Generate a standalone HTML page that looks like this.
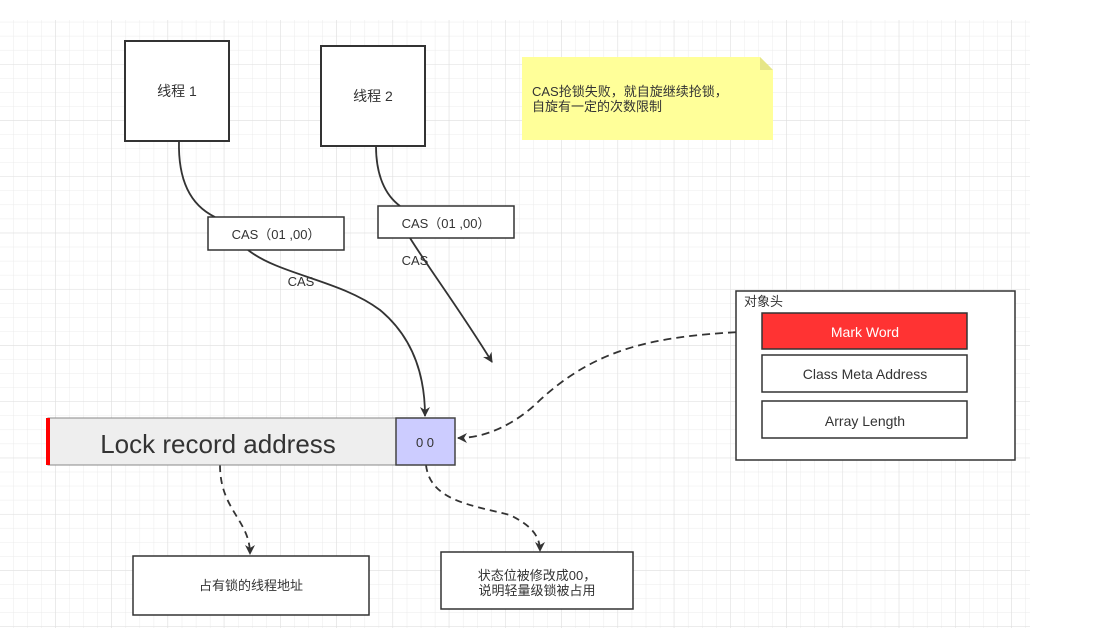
<!DOCTYPE html>
<html><head><meta charset="utf-8"><style>
body{margin:0;width:1098px;height:636px;background:#fff;overflow:hidden;font-family:"Liberation Sans","Noto Sans CJK SC",sans-serif}
</style></head><body>
<svg width="1098" height="636" xmlns="http://www.w3.org/2000/svg" font-family="Liberation Sans, Noto Sans CJK SC, sans-serif">
<defs>
<pattern id="mn" x="-1" y="7.75" width="14.06" height="14.06" patternUnits="userSpaceOnUse"><path d="M0 0H14.06M0 0V14.06" stroke="#ebebeb" stroke-width="1" fill="none"/></pattern>
<pattern id="mj" x="-1.25" y="7.75" width="56.25" height="56.25" patternUnits="userSpaceOnUse"><path d="M0 0H56.25M0 0V56.25" stroke="#dedede" stroke-width="1" fill="none"/></pattern>
<marker id="ar" markerWidth="10" markerHeight="10" refX="9" refY="5" orient="auto" markerUnits="userSpaceOnUse"><path d="M0,0 L10,5 L0,10 L3,5 z" fill="#333"/></marker>
</defs>
<rect x="0" y="20" width="1030" height="608" fill="url(#mn)"/>
<rect x="0" y="20" width="1030" height="608" fill="url(#mj)"/>
<g stroke="#333" stroke-width="2" fill="#fff">
<rect x="125" y="41" width="104" height="100"/>
<rect x="321" y="46" width="104" height="100"/>
</g>
<text x="177" y="96" font-size="14" text-anchor="middle" fill="#333">线程 1</text>
<text x="373" y="101" font-size="14" text-anchor="middle" fill="#333">线程 2</text>
<path d="M522 57H760L773 70V140H522Z" fill="#ffff99"/>
<path d="M760 57V70H773" fill="#e6e688"/>
<text x="532" y="96" font-size="13" fill="#333">CAS抢锁失败，就自旋继续抢锁，</text>
<text x="532" y="111" font-size="13" fill="#333">自旋有一定的次数限制</text>
<g fill="none" stroke="#333" stroke-width="1.8">
<path d="M179 141C178 180 190 205 215 217"/>
<path d="M248 250C280 275 340 280 380 310C410 335 425 370 425 416" marker-end="url(#ar)"/>
<path d="M376 146C376 175 385 195 400 206"/>
<path d="M410 238C430 270 460 310 492 362" marker-end="url(#ar)"/>
<path d="M762 331C660 335 600 345 540 400C520 420 490 438 458 438" stroke-dasharray="8,5" marker-end="url(#ar)"/>
<path d="M220 465C220 510 250 520 250 554" stroke-dasharray="7,5" marker-end="url(#ar)"/>
<path d="M426 465C430 500 470 505 510 515C530 525 540 535 540 551" stroke-dasharray="7,5" marker-end="url(#ar)"/>
</g>
<g stroke="#333" stroke-width="1.5" fill="#fff">
<rect x="208" y="217" width="136" height="33"/>
<rect x="378" y="206" width="136" height="32"/>
</g>
<text x="276" y="239" font-size="13" text-anchor="middle" fill="#333">CAS（01 ,00）</text>
<text x="446" y="228" font-size="13" text-anchor="middle" fill="#333">CAS（01 ,00）</text>
<text x="301" y="286" font-size="13" text-anchor="middle" fill="#333">CAS</text>
<text x="415" y="265" font-size="13" text-anchor="middle" fill="#333">CAS</text>
<rect x="48" y="418" width="348" height="47" fill="#eeeeee" stroke="#888" stroke-width="1"/>
<rect x="46" y="418" width="4" height="47" fill="#f00"/>
<text x="218" y="453" font-size="26" text-anchor="middle" fill="#333">Lock record address</text>
<rect x="396" y="418" width="59" height="47" fill="#ccccff" stroke="#444" stroke-width="1.5"/>
<text x="425" y="447" font-size="13" text-anchor="middle" fill="#333">0 0</text>
<rect x="736" y="291" width="279" height="169" fill="#fff" stroke="#333" stroke-width="1.5"/>
<text x="744" y="306" font-size="13" fill="#333">对象头</text>
<rect x="762" y="313" width="205" height="36" fill="#ff3333" stroke="#333" stroke-width="1.5"/>
<text x="865" y="337" font-size="14" text-anchor="middle" fill="#fff">Mark Word</text>
<rect x="762" y="355" width="205" height="37" fill="#fff" stroke="#333" stroke-width="1.5"/>
<text x="865" y="379" font-size="14" text-anchor="middle" fill="#333">Class Meta Address</text>
<rect x="762" y="401" width="205" height="37" fill="#fff" stroke="#333" stroke-width="1.5"/>
<text x="865" y="426" font-size="14" text-anchor="middle" fill="#333">Array Length</text>
<g stroke="#333" stroke-width="1.5" fill="#fff">
<rect x="133" y="556" width="236" height="59"/>
<rect x="441" y="552" width="192" height="57"/>
</g>
<text x="251" y="590" font-size="13" text-anchor="middle" fill="#333">占有锁的线程地址</text>
<text x="537" y="580" font-size="13" text-anchor="middle" fill="#333">状态位被修改成00，</text>
<text x="537" y="595" font-size="13" text-anchor="middle" fill="#333">说明轻量级锁被占用</text>
</svg>
</body></html>
